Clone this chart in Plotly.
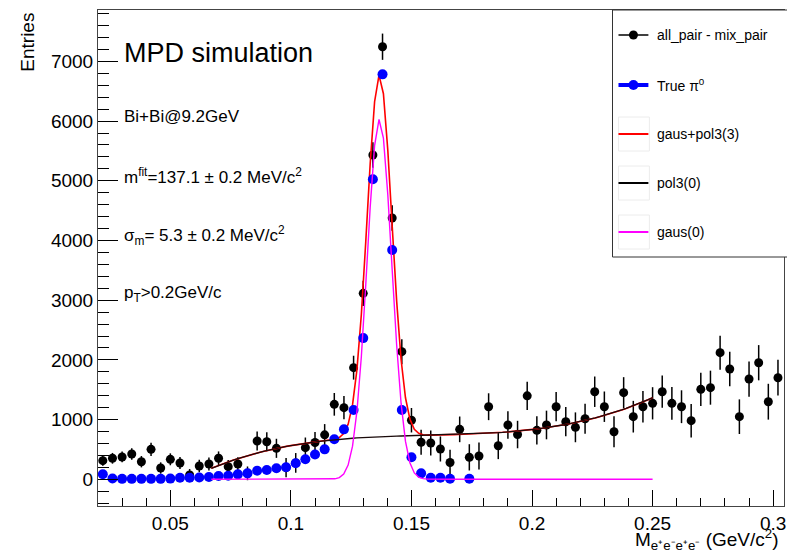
import numpy as np
import plotly.graph_objects as go

# ---------------- data ----------------
bin_low = 0.020
bin_width = 0.004

all_minus_mix = [312, 352, 374, 424, 295, 502, 189, 335, 273, 72,
                 223, 256, 352, 212, 256, 100, 641, 630, 519, 195,
                 275, 530, 617, 745, 1256, 1200, 1870, 3115, 5432, 7246,
                 4377, 2138, 990, 620, 608, 508, 282, 837, 368, 390,
                 1216, 563, 910, 750, 1398, 820, 910, 1216, 965, 871,
                 1015, 1467, 1216, 797, 1451, 1049, 1216, 1273, 1467, 1273,
                 1216, 982, 1507, 1535, 2121, 1848, 1049, 1680, 1953, 1300,
                 1702]
all_minus_mix_err = [85, 90, 90, 95, 95, 110, 95, 100, 100, 100,
                     105, 110, 115, 110, 115, 115,
                     160, 160, 160, 160, 165, 170, 175, 180, 190, 195, 200,
                     210, 215, 220, 215, 210,
                     205, 210, 210, 210, 215, 215, 220, 225, 225, 225, 230, 230, 235, 235, 240,
                     245, 245, 250, 250, 255, 255, 260, 260, 265, 265, 270, 270,
                     275, 275, 280, 280, 285, 285, 290, 290, 295, 295, 300, 300]
true_pi0 = [85, 15, 8, 8, 8, 8, 8, 12, 25, 25,
            30, 40, 55, 60, 83, 100, 144, 156, 184, 201,
            268, 335, 415, 502, 672, 837, 1161, 2365, 5025, 6783,
            3841, 1161, 370, 100, 27, 27, 10, None, 10]

# fit results (gaus: amplitude, mean, sigma; pol3 in u=(x-0.15)/0.1)
fit_range = [0.067, 0.25]
gaus0_par = [6030, 0.1367, 0.0051]
gaus3_par = [6060, 0.1367, 0.0051]
pol3_center, pol3_scale = 0.15, 0.1
pol3_par = [730, 104.2, -122.9, 655.7]

x_tickvals = [0.05, 0.1, 0.15, 0.2, 0.25, 0.3]
x_ticktext = ["0.05", "0.1", "0.15", "0.2", "0.25", "0.3"]
y_tickvals = [0, 1000, 2000, 3000, 4000, 5000, 6000, 7000]

text_lines = ["Bi+Bi@9.2GeV",
              "m<sup>fit</sup>=137.1 \u00b1 0.2 MeV/c<sup>2</sup>",
              "\u03c3<sub>m</sub>= 5.3 \u00b1 0.2 MeV/c<sup>2</sup>",
              "p<sub>T</sub>&gt;0.2GeV/c"]
legend_labels = ["all_pair - mix_pair", "True \u03c0<sup>0</sup>",
                 "gaus+pol3(3)", "pol3(0)", "gaus(0)"]

# ---------------- derived ----------------
nb = len(all_minus_mix)
centers = [round(bin_low + bin_width * (i + 0.5), 4) for i in range(nb)]
centers_true = centers[:len(true_pi0)]

xf = np.linspace(fit_range[0], fit_range[1], 101)
def gaus(x, p):
    return p[0] * np.exp(-0.5 * ((x - p[1]) / p[2]) ** 2)
def pol3(x, p):
    u = (x - pol3_center) / pol3_scale
    return p[0] + p[1] * u + p[2] * u ** 2 + p[3] * u ** 3

FONT = "Liberation Sans, Arial, Helvetica, sans-serif"
W, H = 787, 552
L, R, T, B = 98, 1, 10, 46
PW, PH = W - L - R, H - T - B
def xp(px):
    return (px - L) / PW
def yp(py):
    return (H - B - py) / PH

fig = go.Figure()
fig.add_trace(go.Scatter(x=centers, y=all_minus_mix, mode="markers",
                         marker=dict(color="black", size=9),
                         error_y=dict(type="data", array=all_minus_mix_err,
                                      color="black", thickness=1.5, width=0),
                         showlegend=False))
fig.add_trace(go.Scatter(x=xf, y=gaus(xf, gaus3_par) + pol3(xf, pol3_par),
                         mode="lines", line=dict(color="#ff0000", width=1.6),
                         showlegend=False))
fig.add_trace(go.Scatter(x=centers_true, y=true_pi0, mode="markers",
                         marker=dict(color="#0000ff", size=10),
                         showlegend=False))
fig.add_trace(go.Scatter(x=xf, y=pol3(xf, pol3_par), mode="lines",
                         line=dict(color="#1a0a0a", width=1.3),
                         showlegend=False))
fig.add_trace(go.Scatter(x=xf, y=gaus(xf, gaus0_par), mode="lines",
                         line=dict(color="#ff00ff", width=1.4),
                         showlegend=False))

ann = []
ann.append(dict(text="MPD simulation", x=xp(122), y=yp(53), xref="paper", yref="paper",
                xanchor="left", yanchor="middle", showarrow=False,
                font=dict(family=FONT, size=27, color="black")))
for t, py in zip(text_lines, [117, 176, 235, 294]):
    ann.append(dict(text=t, x=xp(122), y=yp(py), xref="paper", yref="paper",
                    xanchor="left", yanchor="middle", showarrow=False,
                    font=dict(family=FONT, size=17, color="black")))
ann.append(dict(text="Entries", x=xp(27), y=yp(11), xref="paper", yref="paper",
                xanchor="center", yanchor="top", textangle=-90, showarrow=False,
                font=dict(family=FONT, size=19, color="black")))
ann.append(dict(text="M<sub>e\u207ae\u207be\u207ae\u207b</sub> (GeV/c<sup>2</sup>)",
                x=xp(783), y=yp(539), xref="paper", yref="paper",
                xanchor="right", yanchor="middle", showarrow=False,
                font=dict(family=FONT, size=19, color="black")))

shapes = []
# legend box
shapes.append(dict(type="rect", xref="paper", yref="paper",
                   x0=xp(614), x1=xp(800), y0=yp(257), y1=yp(10),
                   line=dict(color="#333333", width=1), fillcolor="white", layer="above"))
leg_y = [35, 85, 134, 183, 232]
leg_colors = ["black", "#0000ff", "#ff0000", "black", "#ff00ff"]
leg_widths = [1.5, 4, 2, 2, 2]
for i, (lab, py) in enumerate(zip(legend_labels, leg_y)):
    if i >= 2:
        shapes.append(dict(type="rect", xref="paper", yref="paper",
                           x0=xp(620), x1=xp(651), y0=yp(py + 17), y1=yp(py - 17),
                           line=dict(color="#ececec", width=1), layer="above"))
    shapes.append(dict(type="line", xref="paper", yref="paper",
                       x0=xp(620), x1=xp(650), y0=yp(py), y1=yp(py),
                       line=dict(color=leg_colors[i], width=leg_widths[i]), layer="above"))
    if i < 2:
        r = 4.5 if i == 0 else 5
        shapes.append(dict(type="circle", xref="paper", yref="paper",
                           xsizemode="pixel", ysizemode="pixel",
                           xanchor=xp(635), yanchor=yp(py),
                           x0=-r, x1=r, y0=-r, y1=r,
                           fillcolor=leg_colors[i], line=dict(width=0), layer="above"))
    ann.append(dict(text=lab, x=xp(657), y=yp(py), xref="paper", yref="paper",
                    xanchor="left", yanchor="middle", showarrow=False,
                    font=dict(family=FONT, size=14, color="black")))

fig.update_layout(
    width=W, height=H, margin=dict(l=L, r=R, t=T, b=B),
    paper_bgcolor="white", plot_bgcolor="white",
    font=dict(family=FONT, color="black"),
    annotations=ann, shapes=shapes, showlegend=False,
    xaxis=dict(range=[0.02, 0.3045], tickvals=x_tickvals, ticktext=x_ticktext,
               ticks="inside", ticklen=16, tickwidth=1, tickcolor="black",
               ticklabeloverflow="allow",
               minor=dict(dtick=0.01, tick0=0, ticks="inside", ticklen=8, tickcolor="black"),
               showline=True, linecolor="#444444", linewidth=1, mirror=True,
               showgrid=False, zeroline=False,
               tickfont=dict(family=FONT, size=19, color="black")),
    yaxis=dict(range=[-447, 7861], tickvals=y_tickvals, tickformat="d",
               ticks="inside", ticklen=20, tickwidth=1, tickcolor="black",
               minor=dict(dtick=200, tick0=0, ticks="inside", ticklen=11, tickcolor="black"),
               showline=True, linecolor="#444444", linewidth=1, mirror=True,
               showgrid=False, zeroline=False,
               tickfont=dict(family=FONT, size=19, color="black")),
)
fig.write_html("out.html")
